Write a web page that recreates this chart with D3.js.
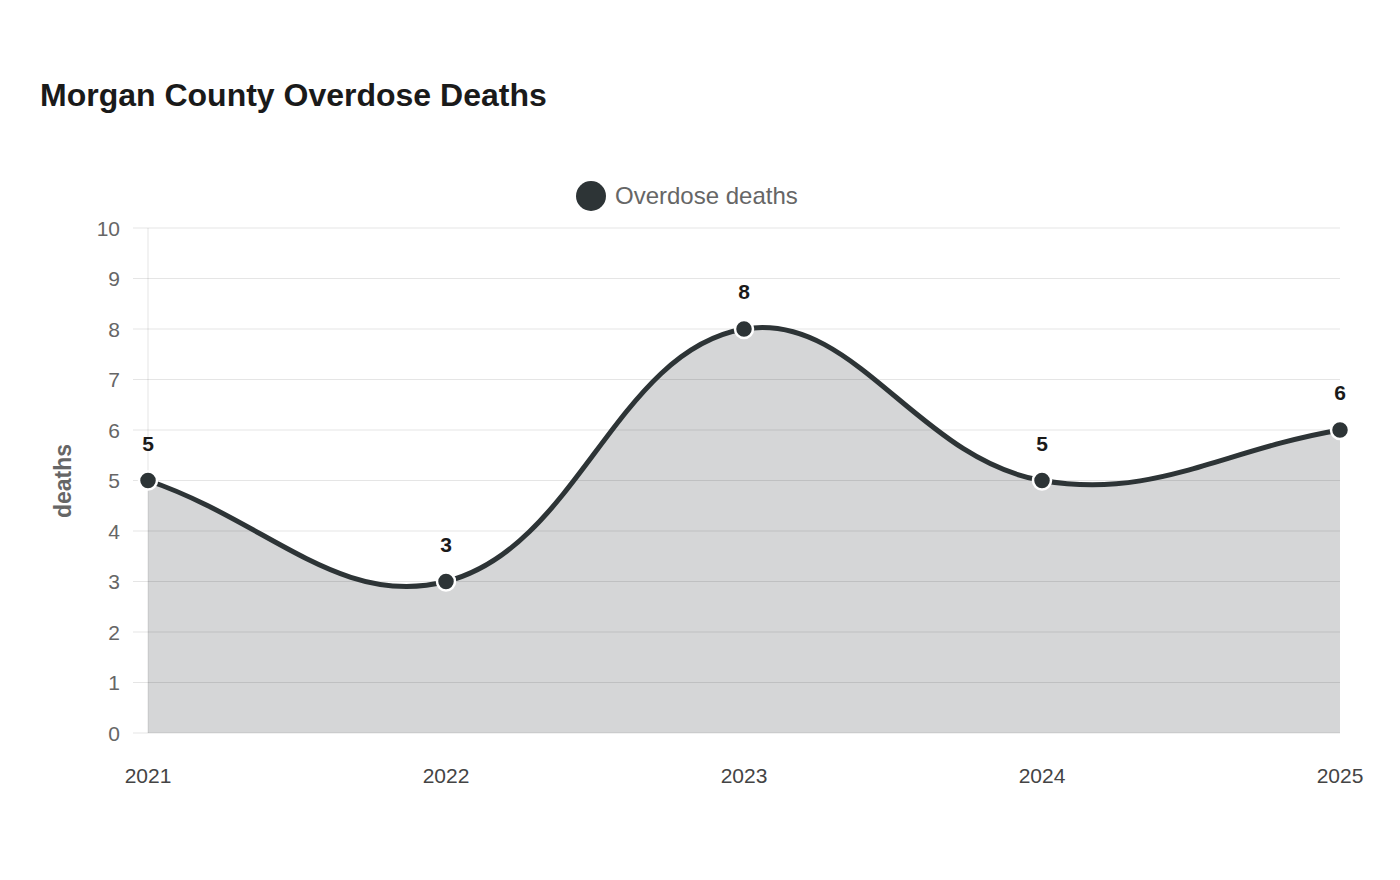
<!DOCTYPE html>
<html>
<head>
<meta charset="utf-8">
<script src="https://cdn.jsdelivr.net/npm/d3@7"></script>
<style>
  body { margin: 0; background: #fff; font-family: "Liberation Sans", Arial, sans-serif; }
</style>
</head>
<body>
<svg width="1400" height="880"></svg>
<script>
// data
const years = ["2021", "2022", "2023", "2024", "2025"];
const deaths = [5, 3, 8, 5, 6];
const yTicks = [0, 1, 2, 3, 4, 5, 6, 7, 8, 9, 10];

const lineColor = "#2d3436";
const svg = d3.select("svg");

const x = d3.scalePoint().domain(years).range([148, 1340]);
const y = d3.scaleLinear().domain([0, 10]).range([733, 228]);

// title
svg.append("text")
    .attr("x", 40).attr("y", 106)
    .style("font-size", "32px").style("font-weight", "bold").style("fill", "#1a1a1a")
    .text("Morgan County Overdose Deaths");

// legend
svg.append("circle").attr("cx", 591).attr("cy", 196).attr("r", 15).attr("fill", lineColor);
svg.append("text")
    .attr("x", 615).attr("y", 204)
    .style("font-size", "24px").style("fill", "#666")
    .text("Overdose deaths");

// points in pixel space
const pts = years.map((yr, i) => [x(yr), y(deaths[i])]);

// spline control points, tension 0.4
const t = 0.4;
const ctrl = pts.map((p, i) => {
    const prev = pts[i - 1] || p, next = pts[i + 1] || p;
    const d01 = Math.hypot(p[0] - prev[0], p[1] - prev[1]);
    const d12 = Math.hypot(next[0] - p[0], next[1] - p[1]);
    let s01 = d01 / (d01 + d12), s12 = d12 / (d01 + d12);
    s01 = isNaN(s01) ? 0 : s01; s12 = isNaN(s12) ? 0 : s12;
    const fa = t * s01, fb = t * s12;
    return {
        prev: [p[0] - fa * (next[0] - prev[0]), p[1] - fa * (next[1] - prev[1])],
        next: [p[0] + fb * (next[0] - prev[0]), p[1] + fb * (next[1] - prev[1])]
    };
});

function curvePath(ctx) {
    ctx.moveTo(pts[0][0], pts[0][1]);
    for (let i = 1; i < pts.length; i++) {
        const a = ctrl[i - 1].next, b = ctrl[i].prev;
        ctx.bezierCurveTo(a[0], a[1], b[0], b[1], pts[i][0], pts[i][1]);
    }
    return ctx;
}

// area fill
const area = curvePath(d3.path());
area.lineTo(pts[pts.length - 1][0], y(0));
area.lineTo(pts[0][0], y(0));
area.closePath();
svg.append("path").attr("d", area.toString()).attr("fill", "rgba(45,52,54,0.2)");

// grid
svg.append("g").selectAll("line")
    .data(yTicks).enter().append("line")
    .attr("x1", 133).attr("x2", 1340)
    .attr("y1", d => y(d)).attr("y2", d => y(d))
    .attr("stroke", "rgba(0,0,0,0.1)").attr("stroke-width", 1);

svg.append("line")
    .attr("x1", 148).attr("x2", 148).attr("y1", y(10)).attr("y2", y(0))
    .attr("stroke", "rgba(0,0,0,0.1)");

// y tick labels
svg.append("g").selectAll("text")
    .data(yTicks).enter().append("text")
    .attr("x", 120).attr("y", d => y(d) + 7.5)
    .attr("text-anchor", "end")
    .style("font-size", "21px").style("fill", "#666")
    .text(d => d);

// x tick labels
svg.append("g").selectAll("text")
    .data(years).enter().append("text")
    .attr("x", d => x(d)).attr("y", 783)
    .attr("text-anchor", "middle")
    .style("font-size", "21px").style("fill", "#444")
    .text(d => d);

// y axis title
svg.append("text")
    .attr("transform", "translate(71,481) rotate(-90)")
    .attr("text-anchor", "middle")
    .style("font-size", "23px").style("font-weight", "bold").style("fill", "#666")
    .text("deaths");

// line
svg.append("path").attr("d", curvePath(d3.path()).toString())
    .attr("fill", "none").attr("stroke", lineColor).attr("stroke-width", 5);

// points
svg.append("g").selectAll("circle")
    .data(years).enter().append("circle")
    .attr("cx", d => x(d)).attr("cy", (d, i) => y(deaths[i]))
    .attr("r", 9).attr("fill", lineColor)
    .attr("stroke", "#fff").attr("stroke-width", 2.5);

// value labels
svg.append("g").selectAll("text")
    .data(years).enter().append("text")
    .attr("x", d => x(d)).attr("y", (d, i) => y(deaths[i]) - 30)
    .attr("text-anchor", "middle")
    .style("font-size", "21px").style("font-weight", "bold").style("fill", "#1a1a1a")
    .text((d, i) => deaths[i]);
</script>
</body>
</html>
